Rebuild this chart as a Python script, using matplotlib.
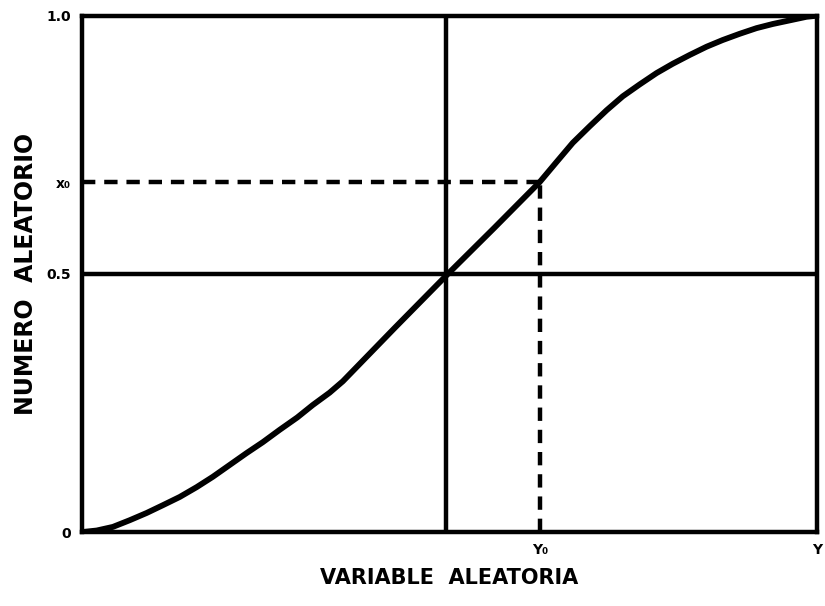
import matplotlib
matplotlib.use("Agg")
import matplotlib.pyplot as plt
import numpy as np

# distribution curve (variable vs cumulative random number)
curve_x = [0.0, 0.020, 0.042, 0.065, 0.088, 0.110, 0.133, 0.156, 0.178, 0.201,
           0.224, 0.246, 0.269, 0.293, 0.314, 0.337, 0.355, 0.426, 0.498, 0.561,
           0.623, 0.646, 0.668, 0.691, 0.714, 0.736, 0.759, 0.782, 0.804, 0.827,
           0.850, 0.872, 0.895, 0.918, 0.940, 0.963, 0.986, 1.0]
curve_y = [0.0, 0.003, 0.010, 0.023, 0.037, 0.052, 0.068, 0.087, 0.107, 0.130,
           0.153, 0.174, 0.198, 0.222, 0.246, 0.270, 0.292, 0.396, 0.5, 0.589,
           0.678, 0.717, 0.754, 0.786, 0.817, 0.844, 0.867, 0.889, 0.907, 0.924,
           0.940, 0.953, 0.965, 0.976, 0.984, 0.991, 0.998, 1.0]

mid = 0.495
y0 = 0.623
x0 = 0.678

yticks = [0.0, x0, 0.5, 1.0]
ylabels = ["0", "x\u2080", "0.5", "1.0"]
xticks = [y0, 1.0]
xlabels = ["Y\u2080", "Y"]

fig = plt.figure(figsize=(8.25, 6.06), dpi=100)
ax = fig.add_axes([0.0994, 0.122, 0.8906, 0.852])

lw = 3.2
ax.plot(curve_x, curve_y, color="black", linewidth=4.2, solid_capstyle="round",
        solid_joinstyle="round")
ax.plot([mid, mid], [0, 1], color="black", linewidth=lw)
ax.plot([0, 1], [0.5, 0.5], color="black", linewidth=lw)
ax.plot([0, y0], [x0, x0], color="black", linewidth=lw, linestyle=(0, (3, 2)))
ax.plot([y0, y0], [0, x0], color="black", linewidth=lw, linestyle=(0, (3, 2)))

ax.set_xlim(0, 1)
ax.set_ylim(0, 1)
for s in ax.spines.values():
    s.set_linewidth(lw)

ax.set_yticks(yticks)
ax.set_yticklabels(ylabels, fontsize=10, fontweight="bold")
ax.set_xticks(xticks)
ax.set_xticklabels(xlabels, fontsize=10, fontweight="bold")
ax.tick_params(length=0, pad=8)

ax.set_xlabel("VARIABLE  ALEATORIA", fontsize=15, fontweight="bold", labelpad=8)
ax.set_ylabel("NUMERO  ALEATORIO", fontsize=17, fontweight="bold", labelpad=6)

fig.savefig("out.png", dpi=100)
